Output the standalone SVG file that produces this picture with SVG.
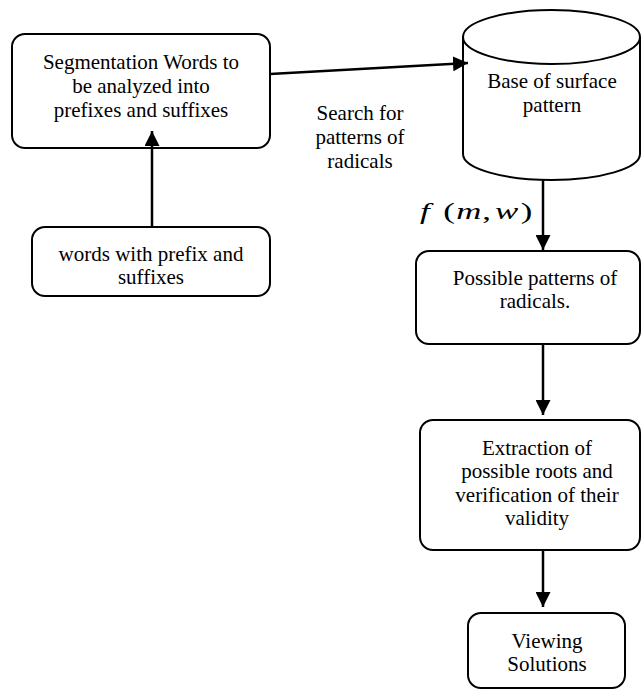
<svg xmlns="http://www.w3.org/2000/svg" width="643" height="693" viewBox="0 0 643 693">
<style>
.box{fill:#fff;stroke:#000;stroke-width:2}
.t{font-family:'Liberation Serif','DejaVu Serif','Times New Roman',serif;font-size:21px;fill:#000;text-anchor:middle}
.m{font-family:'Liberation Serif','DejaVu Serif','Times New Roman',serif;font-size:24px;fill:#000}
.i{font-style:italic}
.c{stroke:#000;stroke-width:2.5;fill:none;marker-end:url(#ah)}
</style>
<defs>
<marker id="ah" viewBox="0 0 10 10" refX="10" refY="5" markerWidth="6" markerHeight="6" markerUnits="strokeWidth" orient="auto">
<path d="M0,0 L10,5 L0,10 z" fill="#000"/>
</marker>
</defs>
<g id="n1">
<rect class="box" x="12" y="34" width="258" height="114" rx="13"/>
<text class="t" x="141" y="69">Segmentation Words to</text>
<text class="t" x="141" y="93">be analyzed into</text>
<text class="t" x="141" y="117">prefixes and suffixes</text>
</g>
<g id="n2">
<rect class="box" x="32" y="227" width="238" height="69" rx="13"/>
<text class="t" x="151" y="261">words with prefix and</text>
<text class="t" x="151" y="284">suffixes</text>
</g>
<g id="label-search">
<text class="t" x="360" y="120">Search for</text>
<text class="t" x="360" y="144">patterns of</text>
<text class="t" x="360" y="168">radicals</text>
</g>
<g id="n3">
<path class="box" d="M463,37 L463,154 A88.5,26 0 0 0 640,154 L640,37"/>
<ellipse class="box" cx="551.5" cy="37" rx="88.5" ry="27"/>
<text class="t" x="552" y="88">Base of surface</text>
<text class="t" x="552" y="112">pattern</text>
</g>
<g id="label-f">
<text class="m" transform="translate(420,219) scale(1.45,1)">
<tspan x="0" class="i">f</tspan><tspan x="16">(</tspan><tspan x="25" class="i">m</tspan><tspan x="43">,</tspan><tspan x="51.7" class="i">w</tspan><tspan x="69.5">)</tspan>
</text>
</g>
<g id="n4">
<rect class="box" x="416" y="251" width="224" height="93" rx="13"/>
<text class="t" x="535" y="285">Possible patterns of</text>
<text class="t" x="535" y="308">radicals.</text>
</g>
<g id="n5">
<rect class="box" x="420" y="420" width="220" height="130" rx="13"/>
<text class="t" x="537" y="455">Extraction of</text>
<text class="t" x="537" y="478">possible roots and</text>
<text class="t" x="537" y="502">verification of their</text>
<text class="t" x="537" y="525">validity</text>
</g>
<g id="n6">
<rect class="box" x="468" y="613" width="157" height="75" rx="13"/>
<text class="t" x="547" y="648">Viewing</text>
<text class="t" x="547" y="671">Solutions</text>
</g>
<g id="connectors">
<line class="c" x1="152" y1="227" x2="152" y2="131"/>
<line class="c" x1="270" y1="74" x2="468" y2="63"/>
<line class="c" x1="543" y1="180" x2="543" y2="250"/>
<line class="c" x1="543" y1="344" x2="543" y2="415"/>
<line class="c" x1="543" y1="550" x2="543" y2="607"/>
</g>
</svg>
